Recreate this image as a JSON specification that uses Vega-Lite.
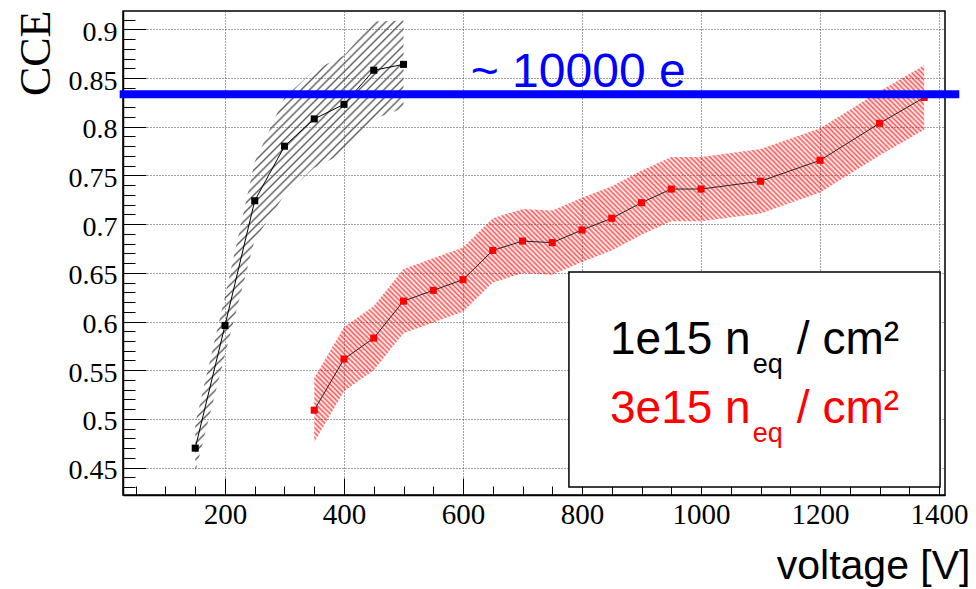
{
  "$schema": "https://vega.github.io/schema/vega-lite/v6.json",
  "width": 822,
  "height": 484,
  "autosize": {"type": "none"},
  "padding": {"left": 123, "top": 11, "right": 31, "bottom": 94},
  "background": "white",
  "config": {"view": {"stroke": "#000", "strokeWidth": 1.5}, "axis": {"labelFont": "Liberation Serif"}},
  "datasets": {
    "black": [
      {"v": 150, "cce": 0.470, "lo": 0.445, "hi": 0.495},
      {"v": 200, "cce": 0.596, "lo": 0.566, "hi": 0.626},
      {"v": 250, "cce": 0.724, "lo": 0.684, "hi": 0.764},
      {"v": 300, "cce": 0.780, "lo": 0.730, "hi": 0.830},
      {"v": 350, "cce": 0.808, "lo": 0.758, "hi": 0.858},
      {"v": 400, "cce": 0.823, "lo": 0.773, "hi": 0.873},
      {"v": 450, "cce": 0.858, "lo": 0.808, "hi": 0.908},
      {"v": 500, "cce": 0.864, "lo": 0.819, "hi": 0.909}
    ],
    "red": [
      {"v": 350, "cce": 0.509, "lo": 0.476, "hi": 0.542},
      {"v": 400, "cce": 0.5615, "lo": 0.5285, "hi": 0.5945},
      {"v": 450, "cce": 0.583, "lo": 0.550, "hi": 0.616},
      {"v": 500, "cce": 0.621, "lo": 0.588, "hi": 0.654},
      {"v": 550, "cce": 0.632, "lo": 0.599, "hi": 0.665},
      {"v": 600, "cce": 0.643, "lo": 0.610, "hi": 0.676},
      {"v": 650, "cce": 0.673, "lo": 0.640, "hi": 0.706},
      {"v": 700, "cce": 0.6826, "lo": 0.6496, "hi": 0.7156},
      {"v": 750, "cce": 0.681, "lo": 0.648, "hi": 0.714},
      {"v": 800, "cce": 0.694, "lo": 0.661, "hi": 0.727},
      {"v": 850, "cce": 0.706, "lo": 0.673, "hi": 0.739},
      {"v": 900, "cce": 0.722, "lo": 0.689, "hi": 0.755},
      {"v": 950, "cce": 0.736, "lo": 0.703, "hi": 0.769},
      {"v": 1000, "cce": 0.736, "lo": 0.703, "hi": 0.769},
      {"v": 1100, "cce": 0.744, "lo": 0.711, "hi": 0.777},
      {"v": 1200, "cce": 0.7655, "lo": 0.7325, "hi": 0.7985},
      {"v": 1300, "cce": 0.8035, "lo": 0.7705, "hi": 0.8365},
      {"v": 1375, "cce": 0.830, "lo": 0.797, "hi": 0.863}
    ],
    "one": [{}]
  },
  "resolve": {"axis": {"x": "independent", "y": "independent"}},
  "layer": [
    {
      "data": {"name": "black"},
      "mark": {"type": "area", "fillOpacity": 1,
        "fill": {"gradient": "linear", "x1": 0, "y1": 0, "x2": 0.5552, "y2": 1.2050, "stops": [
{"offset":0,"color":"#4440"},{"offset":0.003,"color":"#444d"},{"offset":0.006,"color":"#4440"},
{"offset":0.0125,"color":"#4440"},{"offset":0.0155,"color":"#444d"},{"offset":0.0185,"color":"#4440"},
{"offset":0.025,"color":"#4440"},{"offset":0.028,"color":"#444d"},{"offset":0.031,"color":"#4440"},
{"offset":0.0375,"color":"#4440"},{"offset":0.0405,"color":"#444d"},{"offset":0.0435,"color":"#4440"},
{"offset":0.05,"color":"#4440"},{"offset":0.053,"color":"#444d"},{"offset":0.056,"color":"#4440"},
{"offset":0.0625,"color":"#4440"},{"offset":0.0655,"color":"#444d"},{"offset":0.0685,"color":"#4440"},
{"offset":0.075,"color":"#4440"},{"offset":0.078,"color":"#444d"},{"offset":0.081,"color":"#4440"},
{"offset":0.0875,"color":"#4440"},{"offset":0.0905,"color":"#444d"},{"offset":0.0935,"color":"#4440"},
{"offset":0.1,"color":"#4440"},{"offset":0.103,"color":"#444d"},{"offset":0.106,"color":"#4440"},
{"offset":0.1125,"color":"#4440"},{"offset":0.1155,"color":"#444d"},{"offset":0.1185,"color":"#4440"},
{"offset":0.125,"color":"#4440"},{"offset":0.128,"color":"#444d"},{"offset":0.131,"color":"#4440"},
{"offset":0.1375,"color":"#4440"},{"offset":0.1405,"color":"#444d"},{"offset":0.1435,"color":"#4440"},
{"offset":0.15,"color":"#4440"},{"offset":0.153,"color":"#444d"},{"offset":0.156,"color":"#4440"},
{"offset":0.1625,"color":"#4440"},{"offset":0.1655,"color":"#444d"},{"offset":0.1685,"color":"#4440"},
{"offset":0.175,"color":"#4440"},{"offset":0.178,"color":"#444d"},{"offset":0.181,"color":"#4440"},
{"offset":0.1875,"color":"#4440"},{"offset":0.1905,"color":"#444d"},{"offset":0.1935,"color":"#4440"},
{"offset":0.2,"color":"#4440"},{"offset":0.203,"color":"#444d"},{"offset":0.206,"color":"#4440"},
{"offset":0.2125,"color":"#4440"},{"offset":0.2155,"color":"#444d"},{"offset":0.2185,"color":"#4440"},
{"offset":0.225,"color":"#4440"},{"offset":0.228,"color":"#444d"},{"offset":0.231,"color":"#4440"},
{"offset":0.2375,"color":"#4440"},{"offset":0.2405,"color":"#444d"},{"offset":0.2435,"color":"#4440"},
{"offset":0.25,"color":"#4440"},{"offset":0.253,"color":"#444d"},{"offset":0.256,"color":"#4440"},
{"offset":0.2625,"color":"#4440"},{"offset":0.2655,"color":"#444d"},{"offset":0.2685,"color":"#4440"},
{"offset":0.275,"color":"#4440"},{"offset":0.278,"color":"#444d"},{"offset":0.281,"color":"#4440"},
{"offset":0.2875,"color":"#4440"},{"offset":0.2905,"color":"#444d"},{"offset":0.2935,"color":"#4440"},
{"offset":0.3,"color":"#4440"},{"offset":0.303,"color":"#444d"},{"offset":0.306,"color":"#4440"},
{"offset":0.3125,"color":"#4440"},{"offset":0.3155,"color":"#444d"},{"offset":0.3185,"color":"#4440"},
{"offset":0.325,"color":"#4440"},{"offset":0.328,"color":"#444d"},{"offset":0.331,"color":"#4440"},
{"offset":0.3375,"color":"#4440"},{"offset":0.3405,"color":"#444d"},{"offset":0.3435,"color":"#4440"},
{"offset":0.35,"color":"#4440"},{"offset":0.353,"color":"#444d"},{"offset":0.356,"color":"#4440"},
{"offset":0.3625,"color":"#4440"},{"offset":0.3655,"color":"#444d"},{"offset":0.3685,"color":"#4440"},
{"offset":0.375,"color":"#4440"},{"offset":0.378,"color":"#444d"},{"offset":0.381,"color":"#4440"},
{"offset":0.3875,"color":"#4440"},{"offset":0.3905,"color":"#444d"},{"offset":0.3935,"color":"#4440"},
{"offset":0.4,"color":"#4440"},{"offset":0.403,"color":"#444d"},{"offset":0.406,"color":"#4440"},
{"offset":0.4125,"color":"#4440"},{"offset":0.4155,"color":"#444d"},{"offset":0.4185,"color":"#4440"},
{"offset":0.425,"color":"#4440"},{"offset":0.428,"color":"#444d"},{"offset":0.431,"color":"#4440"},
{"offset":0.4375,"color":"#4440"},{"offset":0.4405,"color":"#444d"},{"offset":0.4435,"color":"#4440"},
{"offset":0.45,"color":"#4440"},{"offset":0.453,"color":"#444d"},{"offset":0.456,"color":"#4440"},
{"offset":0.4625,"color":"#4440"},{"offset":0.4655,"color":"#444d"},{"offset":0.4685,"color":"#4440"},
{"offset":0.475,"color":"#4440"},{"offset":0.478,"color":"#444d"},{"offset":0.481,"color":"#4440"},
{"offset":0.4875,"color":"#4440"},{"offset":0.4905,"color":"#444d"},{"offset":0.4935,"color":"#4440"},
{"offset":0.5,"color":"#4440"},{"offset":0.503,"color":"#444d"},{"offset":0.506,"color":"#4440"},
{"offset":0.5125,"color":"#4440"},{"offset":0.5155,"color":"#444d"},{"offset":0.5185,"color":"#4440"},
{"offset":0.525,"color":"#4440"},{"offset":0.528,"color":"#444d"},{"offset":0.531,"color":"#4440"},
{"offset":0.5375,"color":"#4440"},{"offset":0.5405,"color":"#444d"},{"offset":0.5435,"color":"#4440"},
{"offset":0.55,"color":"#4440"},{"offset":0.553,"color":"#444d"},{"offset":0.556,"color":"#4440"},
{"offset":0.5625,"color":"#4440"},{"offset":0.5655,"color":"#444d"},{"offset":0.5685,"color":"#4440"},
{"offset":0.575,"color":"#4440"},{"offset":0.578,"color":"#444d"},{"offset":0.581,"color":"#4440"},
{"offset":0.5875,"color":"#4440"},{"offset":0.5905,"color":"#444d"},{"offset":0.5935,"color":"#4440"},
{"offset":0.6,"color":"#4440"},{"offset":0.603,"color":"#444d"},{"offset":0.606,"color":"#4440"},
{"offset":0.6125,"color":"#4440"},{"offset":0.6155,"color":"#444d"},{"offset":0.6185,"color":"#4440"},
{"offset":0.625,"color":"#4440"},{"offset":0.628,"color":"#444d"},{"offset":0.631,"color":"#4440"},
{"offset":0.6375,"color":"#4440"},{"offset":0.6405,"color":"#444d"},{"offset":0.6435,"color":"#4440"},
{"offset":0.65,"color":"#4440"},{"offset":0.653,"color":"#444d"},{"offset":0.656,"color":"#4440"},
{"offset":0.6625,"color":"#4440"},{"offset":0.6655,"color":"#444d"},{"offset":0.6685,"color":"#4440"},
{"offset":0.675,"color":"#4440"},{"offset":0.678,"color":"#444d"},{"offset":0.681,"color":"#4440"},
{"offset":0.6875,"color":"#4440"},{"offset":0.6905,"color":"#444d"},{"offset":0.6935,"color":"#4440"},
{"offset":0.7,"color":"#4440"},{"offset":0.703,"color":"#444d"},{"offset":0.706,"color":"#4440"},
{"offset":0.7125,"color":"#4440"},{"offset":0.7155,"color":"#444d"},{"offset":0.7185,"color":"#4440"},
{"offset":0.725,"color":"#4440"},{"offset":0.728,"color":"#444d"},{"offset":0.731,"color":"#4440"},
{"offset":0.7375,"color":"#4440"},{"offset":0.7405,"color":"#444d"},{"offset":0.7435,"color":"#4440"},
{"offset":0.75,"color":"#4440"},{"offset":0.753,"color":"#444d"},{"offset":0.756,"color":"#4440"},
{"offset":0.7625,"color":"#4440"},{"offset":0.7655,"color":"#444d"},{"offset":0.7685,"color":"#4440"},
{"offset":0.775,"color":"#4440"},{"offset":0.778,"color":"#444d"},{"offset":0.781,"color":"#4440"},
{"offset":0.7875,"color":"#4440"},{"offset":0.7905,"color":"#444d"},{"offset":0.7935,"color":"#4440"},
{"offset":0.8,"color":"#4440"},{"offset":0.803,"color":"#444d"},{"offset":0.806,"color":"#4440"},
{"offset":0.8125,"color":"#4440"},{"offset":0.8155,"color":"#444d"},{"offset":0.8185,"color":"#4440"},
{"offset":0.825,"color":"#4440"},{"offset":0.828,"color":"#444d"},{"offset":0.831,"color":"#4440"},
{"offset":0.8375,"color":"#4440"},{"offset":0.8405,"color":"#444d"},{"offset":0.8435,"color":"#4440"},
{"offset":0.85,"color":"#4440"},{"offset":0.853,"color":"#444d"},{"offset":0.856,"color":"#4440"},
{"offset":0.8625,"color":"#4440"},{"offset":0.8655,"color":"#444d"},{"offset":0.8685,"color":"#4440"},
{"offset":0.875,"color":"#4440"},{"offset":0.878,"color":"#444d"},{"offset":0.881,"color":"#4440"},
{"offset":0.8875,"color":"#4440"},{"offset":0.8905,"color":"#444d"},{"offset":0.8935,"color":"#4440"},
{"offset":0.9,"color":"#4440"},{"offset":0.903,"color":"#444d"},{"offset":0.906,"color":"#4440"},
{"offset":0.9125,"color":"#4440"},{"offset":0.9155,"color":"#444d"},{"offset":0.9185,"color":"#4440"},
{"offset":0.925,"color":"#4440"},{"offset":0.928,"color":"#444d"},{"offset":0.931,"color":"#4440"},
{"offset":0.9375,"color":"#4440"},{"offset":0.9405,"color":"#444d"},{"offset":0.9435,"color":"#4440"},
{"offset":0.95,"color":"#4440"},{"offset":0.953,"color":"#444d"},{"offset":0.956,"color":"#4440"},
{"offset":0.9625,"color":"#4440"},{"offset":0.9655,"color":"#444d"},{"offset":0.9685,"color":"#4440"},
{"offset":0.975,"color":"#4440"},{"offset":0.978,"color":"#444d"},{"offset":0.981,"color":"#4440"},
{"offset":0.9875,"color":"#4440"},{"offset":0.9905,"color":"#444d"},{"offset":0.9935,"color":"#4440"},
{"offset":1,"color":"#4440"}]}},
      "encoding": {
        "x": {"field": "v", "type": "quantitative",
          "scale": {"domain": [28.6, 1410], "nice": false, "zero": false},
          "axis": {"orient": "bottom", "values": [200, 400, 600, 800, 1000, 1200, 1400], "format": "d",
            "tickSize": -17, "tickColor": "#000", "tickWidth": 1,
            "labelPadding": 22, "labelFont": "Liberation Serif", "labelFontSize": 29, "labelColor": "#000",
            "domain": true, "domainColor": "#000", "domainWidth": 1.5,
            "grid": true, "gridColor": "#444", "gridDash": [1, 2], "gridWidth": 1,
            "title": "voltage [V]", "titleFont": "Liberation Sans", "titleFontSize": 41, "titleFontWeight": "normal",
            "titleColor": "#000", "titleX": 847, "titleY": 83, "titleAlign": "right", "titleBaseline": "alphabetic", "titleAngle": 0}},
        "y": {"field": "lo", "type": "quantitative",
          "scale": {"domain": [0.4219, 0.9188], "nice": false, "zero": false},
          "axis": {"orient": "left", "values": [0.45, 0.5, 0.55, 0.6, 0.65, 0.7, 0.75, 0.8, 0.85, 0.9], "format": "~g",
            "tickSize": -23, "tickColor": "#000", "tickWidth": 1,
            "labelPadding": 29, "labelFont": "Liberation Serif", "labelFontSize": 28, "labelColor": "#000", "labelOffset": 3,
            "domain": true, "domainColor": "#000", "domainWidth": 1.5,
            "grid": true, "gridColor": "#444", "gridDash": [1, 2], "gridWidth": 1,
            "title": "CCE", "titleFont": "Liberation Serif", "titleFontSize": 44, "titleFontWeight": "normal",
            "titleColor": "#000", "titleX": -74, "titleY": -1, "titleAlign": "right", "titleBaseline": "alphabetic", "titleAngle": -90}},
        "y2": {"field": "hi"}
      }
    },
    {
      "data": {"name": "red"},
      "mark": {"type": "area", "fillOpacity": 1,
        "fill": {"gradient": "linear", "x1": 0, "y1": 1, "x2": 1.1708, "y2": 0.2763, "stops": [
{"offset":0,"color":"#f00a"},{"offset":0.0025,"color":"#f000"},{"offset":0.005,"color":"#f00a"},{"offset":0.0075,"color":"#f000"},
{"offset":0.01,"color":"#f00a"},{"offset":0.0125,"color":"#f000"},{"offset":0.015,"color":"#f00a"},{"offset":0.0175,"color":"#f000"},
{"offset":0.02,"color":"#f00a"},{"offset":0.0225,"color":"#f000"},{"offset":0.025,"color":"#f00a"},{"offset":0.0275,"color":"#f000"},
{"offset":0.03,"color":"#f00a"},{"offset":0.0325,"color":"#f000"},{"offset":0.035,"color":"#f00a"},{"offset":0.0375,"color":"#f000"},
{"offset":0.04,"color":"#f00a"},{"offset":0.0425,"color":"#f000"},{"offset":0.045,"color":"#f00a"},{"offset":0.0475,"color":"#f000"},
{"offset":0.05,"color":"#f00a"},{"offset":0.0525,"color":"#f000"},{"offset":0.055,"color":"#f00a"},{"offset":0.0575,"color":"#f000"},
{"offset":0.06,"color":"#f00a"},{"offset":0.0625,"color":"#f000"},{"offset":0.065,"color":"#f00a"},{"offset":0.0675,"color":"#f000"},
{"offset":0.07,"color":"#f00a"},{"offset":0.0725,"color":"#f000"},{"offset":0.075,"color":"#f00a"},{"offset":0.0775,"color":"#f000"},
{"offset":0.08,"color":"#f00a"},{"offset":0.0825,"color":"#f000"},{"offset":0.085,"color":"#f00a"},{"offset":0.0875,"color":"#f000"},
{"offset":0.09,"color":"#f00a"},{"offset":0.0925,"color":"#f000"},{"offset":0.095,"color":"#f00a"},{"offset":0.0975,"color":"#f000"},
{"offset":0.1,"color":"#f00a"},{"offset":0.1025,"color":"#f000"},{"offset":0.105,"color":"#f00a"},{"offset":0.1075,"color":"#f000"},
{"offset":0.11,"color":"#f00a"},{"offset":0.1125,"color":"#f000"},{"offset":0.115,"color":"#f00a"},{"offset":0.1175,"color":"#f000"},
{"offset":0.12,"color":"#f00a"},{"offset":0.1225,"color":"#f000"},{"offset":0.125,"color":"#f00a"},{"offset":0.1275,"color":"#f000"},
{"offset":0.13,"color":"#f00a"},{"offset":0.1325,"color":"#f000"},{"offset":0.135,"color":"#f00a"},{"offset":0.1375,"color":"#f000"},
{"offset":0.14,"color":"#f00a"},{"offset":0.1425,"color":"#f000"},{"offset":0.145,"color":"#f00a"},{"offset":0.1475,"color":"#f000"},
{"offset":0.15,"color":"#f00a"},{"offset":0.1525,"color":"#f000"},{"offset":0.155,"color":"#f00a"},{"offset":0.1575,"color":"#f000"},
{"offset":0.16,"color":"#f00a"},{"offset":0.1625,"color":"#f000"},{"offset":0.165,"color":"#f00a"},{"offset":0.1675,"color":"#f000"},
{"offset":0.17,"color":"#f00a"},{"offset":0.1725,"color":"#f000"},{"offset":0.175,"color":"#f00a"},{"offset":0.1775,"color":"#f000"},
{"offset":0.18,"color":"#f00a"},{"offset":0.1825,"color":"#f000"},{"offset":0.185,"color":"#f00a"},{"offset":0.1875,"color":"#f000"},
{"offset":0.19,"color":"#f00a"},{"offset":0.1925,"color":"#f000"},{"offset":0.195,"color":"#f00a"},{"offset":0.1975,"color":"#f000"},
{"offset":0.2,"color":"#f00a"},{"offset":0.2025,"color":"#f000"},{"offset":0.205,"color":"#f00a"},{"offset":0.2075,"color":"#f000"},
{"offset":0.21,"color":"#f00a"},{"offset":0.2125,"color":"#f000"},{"offset":0.215,"color":"#f00a"},{"offset":0.2175,"color":"#f000"},
{"offset":0.22,"color":"#f00a"},{"offset":0.2225,"color":"#f000"},{"offset":0.225,"color":"#f00a"},{"offset":0.2275,"color":"#f000"},
{"offset":0.23,"color":"#f00a"},{"offset":0.2325,"color":"#f000"},{"offset":0.235,"color":"#f00a"},{"offset":0.2375,"color":"#f000"},
{"offset":0.24,"color":"#f00a"},{"offset":0.2425,"color":"#f000"},{"offset":0.245,"color":"#f00a"},{"offset":0.2475,"color":"#f000"},
{"offset":0.25,"color":"#f00a"},{"offset":0.2525,"color":"#f000"},{"offset":0.255,"color":"#f00a"},{"offset":0.2575,"color":"#f000"},
{"offset":0.26,"color":"#f00a"},{"offset":0.2625,"color":"#f000"},{"offset":0.265,"color":"#f00a"},{"offset":0.2675,"color":"#f000"},
{"offset":0.27,"color":"#f00a"},{"offset":0.2725,"color":"#f000"},{"offset":0.275,"color":"#f00a"},{"offset":0.2775,"color":"#f000"},
{"offset":0.28,"color":"#f00a"},{"offset":0.2825,"color":"#f000"},{"offset":0.285,"color":"#f00a"},{"offset":0.2875,"color":"#f000"},
{"offset":0.29,"color":"#f00a"},{"offset":0.2925,"color":"#f000"},{"offset":0.295,"color":"#f00a"},{"offset":0.2975,"color":"#f000"},
{"offset":0.3,"color":"#f00a"},{"offset":0.3025,"color":"#f000"},{"offset":0.305,"color":"#f00a"},{"offset":0.3075,"color":"#f000"},
{"offset":0.31,"color":"#f00a"},{"offset":0.3125,"color":"#f000"},{"offset":0.315,"color":"#f00a"},{"offset":0.3175,"color":"#f000"},
{"offset":0.32,"color":"#f00a"},{"offset":0.3225,"color":"#f000"},{"offset":0.325,"color":"#f00a"},{"offset":0.3275,"color":"#f000"},
{"offset":0.33,"color":"#f00a"},{"offset":0.3325,"color":"#f000"},{"offset":0.335,"color":"#f00a"},{"offset":0.3375,"color":"#f000"},
{"offset":0.34,"color":"#f00a"},{"offset":0.3425,"color":"#f000"},{"offset":0.345,"color":"#f00a"},{"offset":0.3475,"color":"#f000"},
{"offset":0.35,"color":"#f00a"},{"offset":0.3525,"color":"#f000"},{"offset":0.355,"color":"#f00a"},{"offset":0.3575,"color":"#f000"},
{"offset":0.36,"color":"#f00a"},{"offset":0.3625,"color":"#f000"},{"offset":0.365,"color":"#f00a"},{"offset":0.3675,"color":"#f000"},
{"offset":0.37,"color":"#f00a"},{"offset":0.3725,"color":"#f000"},{"offset":0.375,"color":"#f00a"},{"offset":0.3775,"color":"#f000"},
{"offset":0.38,"color":"#f00a"},{"offset":0.3825,"color":"#f000"},{"offset":0.385,"color":"#f00a"},{"offset":0.3875,"color":"#f000"},
{"offset":0.39,"color":"#f00a"},{"offset":0.3925,"color":"#f000"},{"offset":0.395,"color":"#f00a"},{"offset":0.3975,"color":"#f000"},
{"offset":0.4,"color":"#f00a"},{"offset":0.4025,"color":"#f000"},{"offset":0.405,"color":"#f00a"},{"offset":0.4075,"color":"#f000"},
{"offset":0.41,"color":"#f00a"},{"offset":0.4125,"color":"#f000"},{"offset":0.415,"color":"#f00a"},{"offset":0.4175,"color":"#f000"},
{"offset":0.42,"color":"#f00a"},{"offset":0.4225,"color":"#f000"},{"offset":0.425,"color":"#f00a"},{"offset":0.4275,"color":"#f000"},
{"offset":0.43,"color":"#f00a"},{"offset":0.4325,"color":"#f000"},{"offset":0.435,"color":"#f00a"},{"offset":0.4375,"color":"#f000"},
{"offset":0.44,"color":"#f00a"},{"offset":0.4425,"color":"#f000"},{"offset":0.445,"color":"#f00a"},{"offset":0.4475,"color":"#f000"},
{"offset":0.45,"color":"#f00a"},{"offset":0.4525,"color":"#f000"},{"offset":0.455,"color":"#f00a"},{"offset":0.4575,"color":"#f000"},
{"offset":0.46,"color":"#f00a"},{"offset":0.4625,"color":"#f000"},{"offset":0.465,"color":"#f00a"},{"offset":0.4675,"color":"#f000"},
{"offset":0.47,"color":"#f00a"},{"offset":0.4725,"color":"#f000"},{"offset":0.475,"color":"#f00a"},{"offset":0.4775,"color":"#f000"},
{"offset":0.48,"color":"#f00a"},{"offset":0.4825,"color":"#f000"},{"offset":0.485,"color":"#f00a"},{"offset":0.4875,"color":"#f000"},
{"offset":0.49,"color":"#f00a"},{"offset":0.4925,"color":"#f000"},{"offset":0.495,"color":"#f00a"},{"offset":0.4975,"color":"#f000"},
{"offset":0.5,"color":"#f00a"},{"offset":0.5025,"color":"#f000"},{"offset":0.505,"color":"#f00a"},{"offset":0.5075,"color":"#f000"},
{"offset":0.51,"color":"#f00a"},{"offset":0.5125,"color":"#f000"},{"offset":0.515,"color":"#f00a"},{"offset":0.5175,"color":"#f000"},
{"offset":0.52,"color":"#f00a"},{"offset":0.5225,"color":"#f000"},{"offset":0.525,"color":"#f00a"},{"offset":0.5275,"color":"#f000"},
{"offset":0.53,"color":"#f00a"},{"offset":0.5325,"color":"#f000"},{"offset":0.535,"color":"#f00a"},{"offset":0.5375,"color":"#f000"},
{"offset":0.54,"color":"#f00a"},{"offset":0.5425,"color":"#f000"},{"offset":0.545,"color":"#f00a"},{"offset":0.5475,"color":"#f000"},
{"offset":0.55,"color":"#f00a"},{"offset":0.5525,"color":"#f000"},{"offset":0.555,"color":"#f00a"},{"offset":0.5575,"color":"#f000"},
{"offset":0.56,"color":"#f00a"},{"offset":0.5625,"color":"#f000"},{"offset":0.565,"color":"#f00a"},{"offset":0.5675,"color":"#f000"},
{"offset":0.57,"color":"#f00a"},{"offset":0.5725,"color":"#f000"},{"offset":0.575,"color":"#f00a"},{"offset":0.5775,"color":"#f000"},
{"offset":0.58,"color":"#f00a"},{"offset":0.5825,"color":"#f000"},{"offset":0.585,"color":"#f00a"},{"offset":0.5875,"color":"#f000"},
{"offset":0.59,"color":"#f00a"},{"offset":0.5925,"color":"#f000"},{"offset":0.595,"color":"#f00a"},{"offset":0.5975,"color":"#f000"},
{"offset":0.6,"color":"#f00a"},{"offset":0.6025,"color":"#f000"},{"offset":0.605,"color":"#f00a"},{"offset":0.6075,"color":"#f000"},
{"offset":0.61,"color":"#f00a"},{"offset":0.6125,"color":"#f000"},{"offset":0.615,"color":"#f00a"},{"offset":0.6175,"color":"#f000"},
{"offset":0.62,"color":"#f00a"},{"offset":0.6225,"color":"#f000"},{"offset":0.625,"color":"#f00a"},{"offset":0.6275,"color":"#f000"},
{"offset":0.63,"color":"#f00a"},{"offset":0.6325,"color":"#f000"},{"offset":0.635,"color":"#f00a"},{"offset":0.6375,"color":"#f000"},
{"offset":0.64,"color":"#f00a"},{"offset":0.6425,"color":"#f000"},{"offset":0.645,"color":"#f00a"},{"offset":0.6475,"color":"#f000"},
{"offset":0.65,"color":"#f00a"},{"offset":0.6525,"color":"#f000"},{"offset":0.655,"color":"#f00a"},{"offset":0.6575,"color":"#f000"},
{"offset":0.66,"color":"#f00a"},{"offset":0.6625,"color":"#f000"},{"offset":0.665,"color":"#f00a"},{"offset":0.6675,"color":"#f000"},
{"offset":0.67,"color":"#f00a"},{"offset":0.6725,"color":"#f000"},{"offset":0.675,"color":"#f00a"},{"offset":0.6775,"color":"#f000"},
{"offset":0.68,"color":"#f00a"},{"offset":0.6825,"color":"#f000"},{"offset":0.685,"color":"#f00a"},{"offset":0.6875,"color":"#f000"},
{"offset":0.69,"color":"#f00a"},{"offset":0.6925,"color":"#f000"},{"offset":0.695,"color":"#f00a"},{"offset":0.6975,"color":"#f000"},
{"offset":0.7,"color":"#f00a"},{"offset":0.7025,"color":"#f000"},{"offset":0.705,"color":"#f00a"},{"offset":0.7075,"color":"#f000"},
{"offset":0.71,"color":"#f00a"},{"offset":0.7125,"color":"#f000"},{"offset":0.715,"color":"#f00a"},{"offset":0.7175,"color":"#f000"},
{"offset":0.72,"color":"#f00a"},{"offset":0.7225,"color":"#f000"},{"offset":0.725,"color":"#f00a"},{"offset":0.7275,"color":"#f000"},
{"offset":0.73,"color":"#f00a"},{"offset":0.7325,"color":"#f000"},{"offset":0.735,"color":"#f00a"},{"offset":0.7375,"color":"#f000"},
{"offset":0.74,"color":"#f00a"},{"offset":0.7425,"color":"#f000"},{"offset":0.745,"color":"#f00a"},{"offset":0.7475,"color":"#f000"},
{"offset":0.75,"color":"#f00a"},{"offset":0.7525,"color":"#f000"},{"offset":0.755,"color":"#f00a"},{"offset":0.7575,"color":"#f000"},
{"offset":0.76,"color":"#f00a"},{"offset":0.7625,"color":"#f000"},{"offset":0.765,"color":"#f00a"},{"offset":0.7675,"color":"#f000"},
{"offset":0.77,"color":"#f00a"},{"offset":0.7725,"color":"#f000"},{"offset":0.775,"color":"#f00a"},{"offset":0.7775,"color":"#f000"},
{"offset":0.78,"color":"#f00a"},{"offset":0.7825,"color":"#f000"},{"offset":0.785,"color":"#f00a"},{"offset":0.7875,"color":"#f000"},
{"offset":0.79,"color":"#f00a"},{"offset":0.7925,"color":"#f000"},{"offset":0.795,"color":"#f00a"},{"offset":0.7975,"color":"#f000"},
{"offset":0.8,"color":"#f00a"},{"offset":0.8025,"color":"#f000"},{"offset":0.805,"color":"#f00a"},{"offset":0.8075,"color":"#f000"},
{"offset":0.81,"color":"#f00a"},{"offset":0.8125,"color":"#f000"},{"offset":0.815,"color":"#f00a"},{"offset":0.8175,"color":"#f000"},
{"offset":0.82,"color":"#f00a"},{"offset":0.8225,"color":"#f000"},{"offset":0.825,"color":"#f00a"},{"offset":0.8275,"color":"#f000"},
{"offset":0.83,"color":"#f00a"},{"offset":0.8325,"color":"#f000"},{"offset":0.835,"color":"#f00a"},{"offset":0.8375,"color":"#f000"},
{"offset":0.84,"color":"#f00a"},{"offset":0.8425,"color":"#f000"},{"offset":0.845,"color":"#f00a"},{"offset":0.8475,"color":"#f000"},
{"offset":0.85,"color":"#f00a"},{"offset":0.8525,"color":"#f000"},{"offset":0.855,"color":"#f00a"},{"offset":0.8575,"color":"#f000"},
{"offset":0.86,"color":"#f00a"},{"offset":0.8625,"color":"#f000"},{"offset":0.865,"color":"#f00a"},{"offset":0.8675,"color":"#f000"},
{"offset":0.87,"color":"#f00a"},{"offset":0.8725,"color":"#f000"},{"offset":0.875,"color":"#f00a"},{"offset":0.8775,"color":"#f000"},
{"offset":0.88,"color":"#f00a"},{"offset":0.8825,"color":"#f000"},{"offset":0.885,"color":"#f00a"},{"offset":0.8875,"color":"#f000"},
{"offset":0.89,"color":"#f00a"},{"offset":0.8925,"color":"#f000"},{"offset":0.895,"color":"#f00a"},{"offset":0.8975,"color":"#f000"},
{"offset":0.9,"color":"#f00a"},{"offset":0.9025,"color":"#f000"},{"offset":0.905,"color":"#f00a"},{"offset":0.9075,"color":"#f000"},
{"offset":0.91,"color":"#f00a"},{"offset":0.9125,"color":"#f000"},{"offset":0.915,"color":"#f00a"},{"offset":0.9175,"color":"#f000"},
{"offset":0.92,"color":"#f00a"},{"offset":0.9225,"color":"#f000"},{"offset":0.925,"color":"#f00a"},{"offset":0.9275,"color":"#f000"},
{"offset":0.93,"color":"#f00a"},{"offset":0.9325,"color":"#f000"},{"offset":0.935,"color":"#f00a"},{"offset":0.9375,"color":"#f000"},
{"offset":0.94,"color":"#f00a"},{"offset":0.9425,"color":"#f000"},{"offset":0.945,"color":"#f00a"},{"offset":0.9475,"color":"#f000"},
{"offset":0.95,"color":"#f00a"},{"offset":0.9525,"color":"#f000"},{"offset":0.955,"color":"#f00a"},{"offset":0.9575,"color":"#f000"},
{"offset":0.96,"color":"#f00a"},{"offset":0.9625,"color":"#f000"},{"offset":0.965,"color":"#f00a"},{"offset":0.9675,"color":"#f000"},
{"offset":0.97,"color":"#f00a"},{"offset":0.9725,"color":"#f000"},{"offset":0.975,"color":"#f00a"},{"offset":0.9775,"color":"#f000"},
{"offset":0.98,"color":"#f00a"},{"offset":0.9825,"color":"#f000"},{"offset":0.985,"color":"#f00a"},{"offset":0.9875,"color":"#f000"},
{"offset":0.99,"color":"#f00a"},{"offset":0.9925,"color":"#f000"},{"offset":0.995,"color":"#f00a"},{"offset":0.9975,"color":"#f000"},
{"offset":1,"color":"#f00a"}]}},
      "encoding": {
        "x": {"field": "v", "type": "quantitative",
          "axis": {"orient": "bottom", "values": [50, 100, 150, 200, 250, 300, 350, 400, 450, 500, 550, 600, 650, 700, 750, 800, 850, 900, 950, 1000, 1050, 1100, 1150, 1200, 1250, 1300, 1350, 1400],
            "tickSize": -9, "tickColor": "#000", "tickWidth": 1, "labels": false, "domain": false, "grid": false, "title": null}},
        "y": {"field": "lo", "type": "quantitative",
          "axis": {"orient": "left", "values": [0.43, 0.44, 0.45, 0.46, 0.47, 0.48, 0.49, 0.5, 0.51, 0.52, 0.53, 0.54, 0.55, 0.56, 0.57, 0.58, 0.59, 0.6, 0.61, 0.62, 0.63, 0.64, 0.65, 0.66, 0.67, 0.68, 0.69, 0.7, 0.71, 0.72, 0.73, 0.74, 0.75, 0.76, 0.77, 0.78, 0.79, 0.8, 0.81, 0.82, 0.83, 0.84, 0.85, 0.86, 0.87, 0.88, 0.89, 0.9, 0.91],
            "tickSize": -12, "tickColor": "#000", "tickWidth": 1, "labels": false, "domain": false, "grid": false, "title": null}},
        "y2": {"field": "hi"}
      }
    },
    {
      "data": {"name": "black"},
      "mark": {"type": "line", "color": "#000", "strokeWidth": 1},
      "encoding": {
        "x": {"field": "v", "type": "quantitative", "axis": null},
        "y": {"field": "cce", "type": "quantitative", "axis": null}
      }
    },
    {
      "data": {"name": "black"},
      "mark": {"type": "point", "shape": "square", "filled": true, "color": "#000", "size": 50, "opacity": 1},
      "encoding": {
        "x": {"field": "v", "type": "quantitative", "axis": null},
        "y": {"field": "cce", "type": "quantitative", "axis": null}
      }
    },
    {
      "data": {"name": "red"},
      "mark": {"type": "line", "color": "#222", "strokeWidth": 1},
      "encoding": {
        "x": {"field": "v", "type": "quantitative", "axis": null},
        "y": {"field": "cce", "type": "quantitative", "axis": null}
      }
    },
    {
      "data": {"name": "red"},
      "mark": {"type": "point", "shape": "square", "filled": true, "color": "#ff0000", "size": 50, "opacity": 1},
      "encoding": {
        "x": {"field": "v", "type": "quantitative", "axis": null},
        "y": {"field": "cce", "type": "quantitative", "axis": null}
      }
    },
    {
      "data": {"name": "one"},
      "mark": {"type": "rule", "color": "#0000ff", "strokeWidth": 8, "clip": false},
      "encoding": {
        "x": {"datum": 23, "type": "quantitative", "axis": null},
        "x2": {"datum": 1434},
        "y": {"datum": 0.8333, "type": "quantitative", "axis": null}
      }
    },
    {
      "data": {"name": "one"},
      "mark": {"type": "text", "text": "~ 10000 e", "font": "Liberation Sans", "fontSize": 48, "color": "#0000ff", "align": "left", "baseline": "alphabetic"},
      "encoding": {
        "x": {"datum": 613, "type": "quantitative", "axis": null},
        "y": {"datum": 0.8408, "type": "quantitative", "axis": null}
      }
    },
    {
      "data": {"name": "one"},
      "mark": {"type": "rect", "fill": "#ffffff", "stroke": "#000", "strokeWidth": 1.5},
      "encoding": {
        "x": {"datum": 778, "type": "quantitative", "axis": null},
        "x2": {"datum": 1401.7},
        "y": {"datum": 0.430, "type": "quantitative", "axis": null},
        "y2": {"datum": 0.6508}
      }
    },
    {
      "data": {"name": "one"},
      "mark": {"type": "text", "text": "1e15 n", "font": "Liberation Sans", "fontSize": 46, "color": "#000", "align": "left", "baseline": "alphabetic"},
      "encoding": {
        "x": {"datum": 847, "type": "quantitative", "axis": null},
        "y": {"datum": 0.5666, "type": "quantitative", "axis": null}
      }
    },
    {
      "data": {"name": "one"},
      "mark": {"type": "text", "text": "eq", "font": "Liberation Sans", "fontSize": 27, "color": "#000", "align": "left", "baseline": "alphabetic"},
      "encoding": {
        "x": {"datum": 1087, "type": "quantitative", "axis": null},
        "y": {"datum": 0.5471, "type": "quantitative", "axis": null}
      }
    },
    {
      "data": {"name": "one"},
      "mark": {"type": "text", "text": "/ cm²", "font": "Liberation Sans", "fontSize": 46, "color": "#000", "align": "left", "baseline": "alphabetic"},
      "encoding": {
        "x": {"datum": 1161, "type": "quantitative", "axis": null},
        "y": {"datum": 0.5666, "type": "quantitative", "axis": null}
      }
    },
    {
      "data": {"name": "one"},
      "mark": {"type": "text", "text": "3e15 n", "font": "Liberation Sans", "fontSize": 46, "color": "#ff0000", "align": "left", "baseline": "alphabetic"},
      "encoding": {
        "x": {"datum": 847, "type": "quantitative", "axis": null},
        "y": {"datum": 0.4958, "type": "quantitative", "axis": null}
      }
    },
    {
      "data": {"name": "one"},
      "mark": {"type": "text", "text": "eq", "font": "Liberation Sans", "fontSize": 27, "color": "#ff0000", "align": "left", "baseline": "alphabetic"},
      "encoding": {
        "x": {"datum": 1087, "type": "quantitative", "axis": null},
        "y": {"datum": 0.4763, "type": "quantitative", "axis": null}
      }
    },
    {
      "data": {"name": "one"},
      "mark": {"type": "text", "text": "/ cm²", "font": "Liberation Sans", "fontSize": 46, "color": "#ff0000", "align": "left", "baseline": "alphabetic"},
      "encoding": {
        "x": {"datum": 1161, "type": "quantitative", "axis": null},
        "y": {"datum": 0.4958, "type": "quantitative", "axis": null}
      }
    }
  ]
}
